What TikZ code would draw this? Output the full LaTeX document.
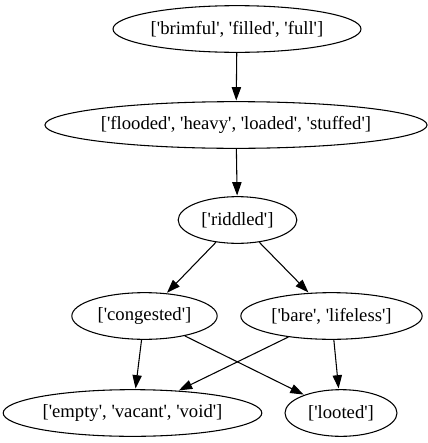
\documentclass[tikz,border=0pt]{standalone}
\usepackage{fontspec}
\setmainfont{Liberation Serif}[Ligatures=TeXOff]
\usetikzlibrary{shapes.geometric,arrows.meta}

\tikzset{
    word/.style={ellipse, draw, thick, inner sep=0pt, minimum height=35pt, font=\fontsize{14}{16}\selectfont},
    link/.style={-{Triangle[length=10pt,width=7pt]}, thick, shorten >=0.5pt}
}

\begin{document}
\begin{tikzpicture}[x=0.75pt, y=-0.75pt]
    \useasboundingbox (0,0) rectangle (428,443);
    \node[word, minimum width=186pt] (brimful) at (237,29) {['brimful', 'filled', 'full']};
    \node[word, minimum width=282pt] (flooded) at (236,125) {['flooded', 'heavy', 'loaded', 'stuffed']};
    \node[word, minimum width=89pt] (riddled) at (237.5,220) {['riddled']};
    \node[word, minimum width=109pt] (congested) at (144.5,316) {['congested']};
    \node[word, minimum width=136pt] (bare) at (331.5,316) {['bare', 'lifeless']};
    \node[word, minimum width=194pt] (empty) at (132.5,413) {['empty', 'vacant', 'void']};
    \node[word, minimum width=84pt] (looted) at (341,413) {['looted']};

    \foreach \a/\b in {brimful/flooded, flooded/riddled, riddled/congested, riddled/bare, congested/empty, congested/looted, bare/empty, bare/looted}
        \draw[link] (\a) -- (\b);
\end{tikzpicture}
\end{document}
